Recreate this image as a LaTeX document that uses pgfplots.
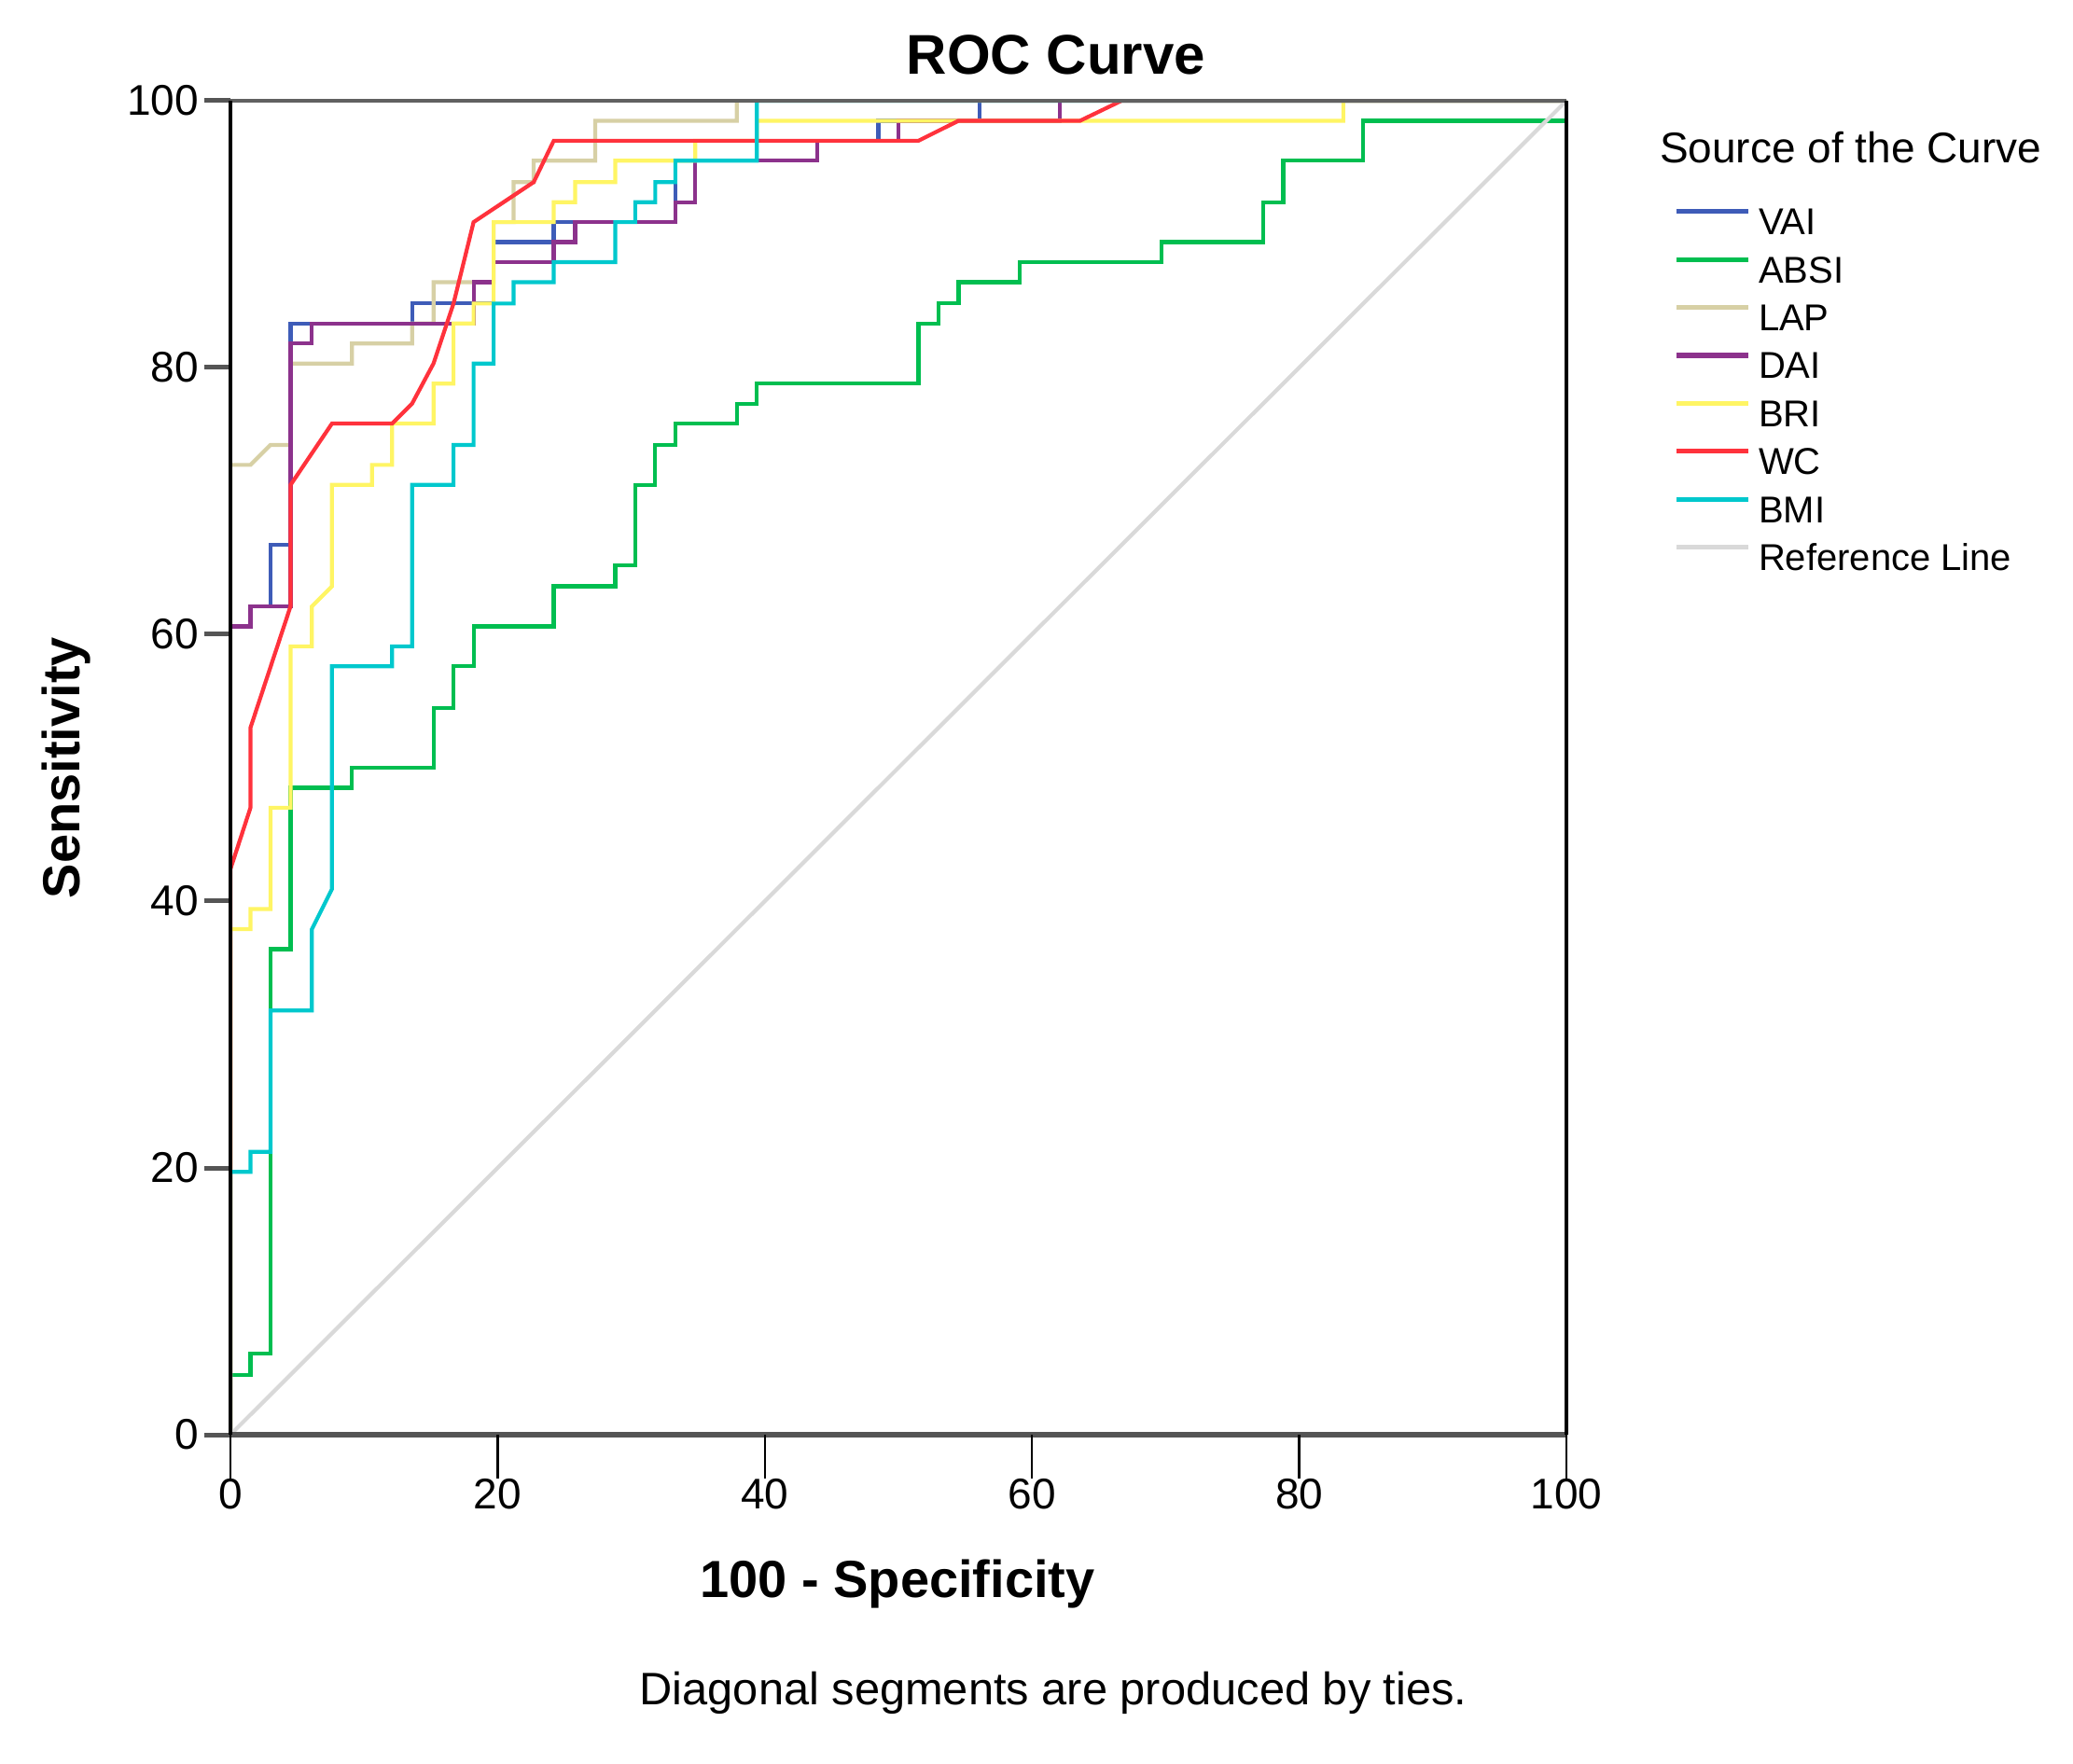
\documentclass[border=0pt]{standalone}
\usepackage{fontspec}
\setmainfont{Liberation Sans}
\usepackage{pgfplots}
\pgfplotsset{compat=1.18}

\definecolor{vai}{HTML}{3E5CB8}
\definecolor{absi}{HTML}{00BE50}
\definecolor{lap}{HTML}{D7D0A5}
\definecolor{dai}{HTML}{8C328C}
\definecolor{bri}{HTML}{FFF564}
\definecolor{wc}{HTML}{FF323C}
\definecolor{bmi}{HTML}{00C8CD}
\definecolor{refl}{HTML}{D9D9D9}
\definecolor{axgray}{HTML}{555555}

\begin{document}
\begin{tikzpicture}
\useasboundingbox (-61.75bp,-88.25bp) rectangle (493.75bp,384.5bp);
\begin{axis}[
  at={(0,0)}, anchor=south west,
  scale only axis, width=358bp, height=357.5bp,
  xmin=0, xmax=100, ymin=0, ymax=100,
  xtick={0,20,...,100}, ytick={0,20,...,100},
  tick pos=left,
  tick align=outside, major tick length=7bp,
  xtick style={draw=none},
  ytick style={draw=axgray, line width=1.25bp},
  axis line style={draw=none},
  clip mode=individual,
  /pgf/number format/assume math mode=true,
  ticklabel style={font=\fontsize{11.5bp}{13bp}\selectfont},
  xticklabel style={yshift=-1.3bp},
  yticklabel style={xshift=2bp},
  title={ROC Curve},
  xlabel={100 - Specificity},
  ylabel={Sensitivity},
  every axis title/.style={at={(axis description cs:0.618,1.0343)}, anchor=center,
    font=\bfseries\fontsize{15bp}{18bp}\selectfont},
  every axis x label/.style={at={(axis description cs:0.4993,-0.1119)}, anchor=center,
    font=\bfseries\fontsize{14bp}{17bp}\selectfont},
  every axis y label/.style={at={(axis description cs:-0.1229,0.5)}, anchor=center, rotate=90,
    font=\bfseries\fontsize{14bp}{17bp}\selectfont},
  legend cell align=left,
  legend image code/.code={\draw[#1, line width=1.3bp] (0bp,3.5bp) -- (19.25bp,3.5bp);},
  legend style={at={(axis description cs:1.0803,0.921)}, anchor=north west,
    draw=none, fill=none, inner sep=0pt, row sep=3.35bp,
    font=\fontsize{10bp}{12bp}\selectfont,
    nodes={inner sep=0pt, text height=7.5bp, text depth=2bp},
    /tikz/every odd column/.append style={column sep=2bp}},
  every axis plot/.append style={line width=1.05bp},
]

% VAI
\addplot[vai] coordinates {(0,0)(0,60.6)(1.5,60.6)(1.5,62.1)(3,62.1)(3,66.7)(4.5,66.7)(4.5,83.3)
  (13.6,83.3)(13.6,84.8)(19.7,84.8)(19.7,89.4)(24.2,89.4)(24.2,90.9)(33.3,90.9)(33.3,95.5)
  (43.9,95.5)(43.9,97)(48.5,97)(48.5,98.5)(56.1,98.5)(56.1,100)(100,100)};
\addlegendentry{VAI}

% ABSI
\addplot[absi] coordinates {(0,0)(0,4.5)(1.5,4.5)(1.5,6.1)(3,6.1)(3,36.4)(4.5,36.4)(4.5,48.5)
  (9.1,48.5)(9.1,50)(15.2,50)(15.2,54.5)(16.7,54.5)(16.7,57.6)(18.2,57.6)(18.2,60.6)
  (24.2,60.6)(24.2,63.6)(28.8,63.6)(28.8,65.2)(30.3,65.2)(30.3,71.2)(31.8,71.2)(31.8,74.2)
  (33.3,74.2)(33.3,75.8)(37.9,75.8)(37.9,77.3)(39.4,77.3)(39.4,78.8)(51.5,78.8)(51.5,83.3)
  (53,83.3)(53,84.8)(54.5,84.8)(54.5,86.4)(59.1,86.4)(59.1,87.9)(69.7,87.9)(69.7,89.4)
  (77.3,89.4)(77.3,92.4)(78.8,92.4)(78.8,95.5)(84.8,95.5)(84.8,98.5)(100,98.5)(100,100)};
\addlegendentry{ABSI}

% LAP
\addplot[lap] coordinates {(0,0)(0,72.7)(1.5,72.7)(3,74.2)(4.5,74.2)(4.5,80.3)(9.1,80.3)(9.1,81.8)
  (13.6,81.8)(13.6,83.3)(15.2,83.3)(15.2,86.4)(19.7,86.4)(19.7,90.9)(21.2,90.9)(21.2,93.9)
  (22.7,93.9)(22.7,95.5)(27.3,95.5)(27.3,98.5)(37.9,98.5)(37.9,100)(100,100)};
\addlegendentry{LAP}

% DAI
\addplot[dai] coordinates {(0,0)(0,60.6)(1.5,60.6)(1.5,62.1)(4.5,62.1)(4.5,81.8)(6.1,81.8)(6.1,83.3)
  (18.2,83.3)(18.2,86.4)(19.7,86.4)(19.7,87.9)(24.2,87.9)(24.2,89.4)(25.8,89.4)(25.8,90.9)
  (33.3,90.9)(33.3,92.4)(34.8,92.4)(34.8,95.5)(43.9,95.5)(43.9,97)(50,97)(50,98.5)
  (62.1,98.5)(62.1,100)(100,100)};
\addlegendentry{DAI}

% BRI
\addplot[bri] coordinates {(0,0)(0,37.9)(1.5,37.9)(1.5,39.4)(3,39.4)(3,47)(4.5,47)(4.5,59.1)
  (6.1,59.1)(6.1,62.1)(7.6,63.6)(7.6,71.2)(10.6,71.2)(10.6,72.7)(12.1,72.7)(12.1,75.8)
  (15.2,75.8)(15.2,78.8)(16.7,78.8)(16.7,83.3)(18.2,83.3)(18.2,84.8)(19.7,84.8)(19.7,90.9)
  (24.2,90.9)(24.2,92.4)(25.8,92.4)(25.8,93.9)(28.8,93.9)(28.8,95.5)(34.8,95.5)(34.8,97)
  (39.4,97)(39.4,98.5)(83.3,98.5)(83.3,100)(100,100)};
\addlegendentry{BRI}

% WC
\addplot[wc] coordinates {(0,0)(0,42.4)(1.5,47)(1.5,53)(4.5,62.1)(4.5,71.2)(7.6,75.8)(12.1,75.8)
  (13.6,77.3)(15.2,80.3)(16.7,84.8)(18.2,90.9)(22.7,93.9)(24.2,97)(51.5,97)(54.5,98.5)
  (63.6,98.5)(66.7,100)(100,100)};
\addlegendentry{WC}

% BMI
\addplot[bmi] coordinates {(0,0)(0,19.7)(1.5,19.7)(1.5,21.2)(3,21.2)(3,31.8)(6.1,31.8)(6.1,37.9)
  (7.6,40.9)(7.6,57.6)(12.1,57.6)(12.1,59.1)(13.6,59.1)(13.6,71.2)(16.7,71.2)(16.7,74.2)
  (18.2,74.2)(18.2,80.3)(19.7,80.3)(19.7,84.8)(21.2,84.8)(21.2,86.4)(24.2,86.4)(24.2,87.9)
  (28.8,87.9)(28.8,90.9)(30.3,90.9)(30.3,92.4)(31.8,92.4)(31.8,93.9)(33.3,93.9)(33.3,95.5)
  (39.4,95.5)(39.4,100)(100,100)};
\addlegendentry{BMI}

% reference line
\addplot[refl] coordinates {(0,0)(100,100)};
\addlegendentry{Reference Line}

% frame
\draw[axgray, line width=1.3bp] (rel axis cs:0,0) -- (rel axis cs:1,0);
\draw[black!62, line width=1.1bp] (rel axis cs:0,1) -- (rel axis cs:1,1);
\draw[black, line width=0.9bp] (rel axis cs:0,0) -- (rel axis cs:0,1);
\draw[black, line width=0.9bp] (rel axis cs:1,0) -- (rel axis cs:1,1);
\draw[black, line width=0.6bp]
  (axis cs:0,0) -- ++(0pt,-11.7bp) (axis cs:20,0) -- ++(0pt,-11.7bp)
  (axis cs:40,0) -- ++(0pt,-11.7bp) (axis cs:60,0) -- ++(0pt,-11.7bp)
  (axis cs:80,0) -- ++(0pt,-11.7bp) (axis cs:100,0) -- ++(0pt,-11.7bp);

\node[anchor=west, font=\fontsize{11.5bp}{13bp}\selectfont]
  at (axis description cs:1.0601,0.965) {Source of the Curve};
\node[font=\fontsize{12.2bp}{14bp}\selectfont]
  at (axis description cs:0.616,-0.1937) {Diagonal segments are produced by ties.};
\end{axis}
\end{tikzpicture}
\end{document}
